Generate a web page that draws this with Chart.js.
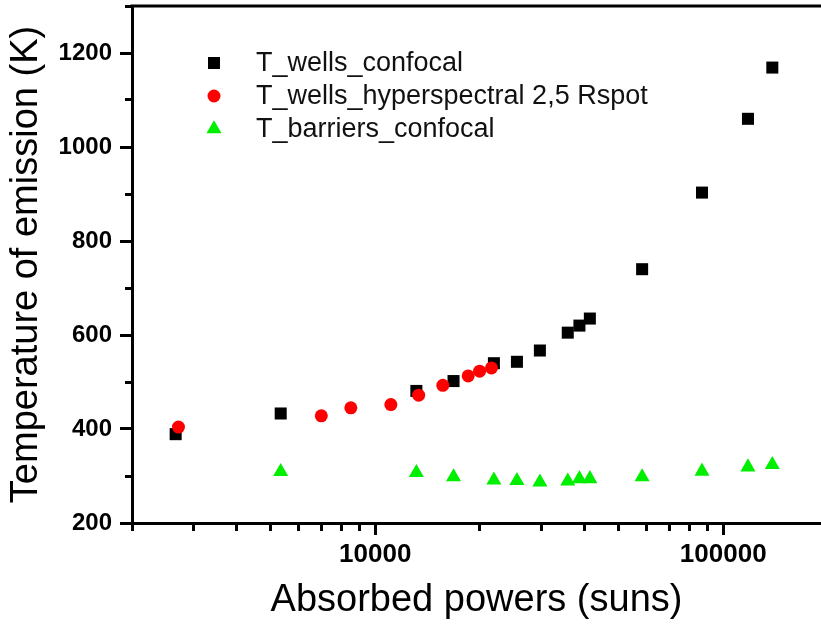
<!DOCTYPE html>
<html>
<head>
<meta charset="utf-8">
<script src="https://cdn.jsdelivr.net/npm/chart.js@4.4.0/dist/chart.umd.min.js"></script>
<style>
  html, body { margin: 0; padding: 0; background: #fff; overflow: hidden; }
  canvas { display: block; }
</style>
</head>
<body>
<canvas id="grafico" width="821" height="625"></canvas>
<script>
// valores (potência absorvida em sóis, temperatura em K)
const confocalPower = [2670, 5350, 13130, 16790, 21930, 25540, 29730, 35750, 38620, 41380, 58480, 86900, 117800, 138400]
const confocalTemp = [389, 433, 481, 502, 540, 543, 567, 605, 620, 635, 740, 903, 1060, 1169]

const hyperPower = [2720, 7000, 8510, 11090, 13330, 15640, 18500, 19950, 21580]
const hyperTemp = [404, 428, 445, 452, 472, 493, 513, 523, 530]

const barrierPower = [5350, 13130, 16790, 21930, 25540, 29730, 35750, 38620, 41380, 58480, 86900, 117800, 138400]
const barrierTemp = [309, 307, 298, 291, 290, 287, 289, 294, 294, 298, 310, 319, 324]

const seriesNames = ['T_wells_confocal', 'T_wells_hyperspectral 2,5 Rspot', 'T_barriers_confocal']

// marcas dos eixos
const xTicks = [2000, 3000, 4000, 5000, 6000, 7000, 8000, 9000, 10000,
  20000, 30000, 40000, 50000, 60000, 70000, 80000, 90000, 100000]
const xLabelTicks = [10000, 100000]
const yLabelTicks = [200, 400, 600, 800, 1000, 1200]

const pts = (xs, ys) => xs.map((x, i) => ({x, y: ys[i]}))

Chart.defaults.font.family = '"Liberation Sans", Arial, sans-serif'
Chart.defaults.color = '#000'

// linha de moldura no topo
const topFrame = {
  id: 'topFrame',
  afterDraw(chart) {
    const {ctx, chartArea} = chart
    ctx.save()
    ctx.strokeStyle = '#000'
    ctx.lineWidth = 3
    ctx.beginPath()
    ctx.moveTo(chartArea.left - 1.5, chartArea.top)
    ctx.lineTo(chartArea.right, chartArea.top)
    ctx.stroke()
    ctx.restore()
  }
}

// legenda dentro da área do gráfico
const legendInside = {
  id: 'legendInside',
  afterDatasetsDraw(chart) {
    const {ctx, chartArea} = chart
    ctx.save()
    ctx.font = '27px "Liberation Sans", Arial, sans-serif'
    ctx.textBaseline = 'middle'
    chart.data.datasets.forEach((ds, i) => {
      const y = chartArea.top + 57 + i * 33
      ctx.fillStyle = ds.backgroundColor
      Chart.helpers.drawPoint(ctx, {pointStyle: ds.pointStyle, radius: ds.pointRadius, borderWidth: 0, rotation: 0}, chartArea.left + 82, y)
      ctx.fillStyle = '#111'
      ctx.fillText(ds.label, chartArea.left + 124, y + 1)
    })
    ctx.restore()
  }
}

const data = {
  datasets: [{
    label: seriesNames[0],
    data: pts(confocalPower, confocalTemp),
    pointStyle: 'rect',
    pointRadius: 8.5,
    backgroundColor: '#000000',
    pointBorderWidth: 0,
    order: 2
  }, {
    label: seriesNames[1],
    data: pts(hyperPower, hyperTemp),
    pointStyle: 'circle',
    pointRadius: 6.5,
    backgroundColor: '#ff0000',
    pointBorderWidth: 0,
    order: 1
  }, {
    label: seriesNames[2],
    data: pts(barrierPower, barrierTemp),
    pointStyle: 'triangle',
    pointRadius: 8.7,
    backgroundColor: '#00ee00',
    pointBorderWidth: 0,
    order: 3
  }]
}

const config = {
  type: 'scatter',
  data,
  plugins: [legendInside, topFrame],
  options: {
    responsive: false,
    animation: false,
    layout: { padding: { top: 6, right: 0, left: 0, bottom: 0 }, autoPadding: false },
    plugins: {
      legend: { display: false },
      tooltip: { enabled: false }
    },
    scales: {
      x: {
        type: 'logarithmic',
        position: 'bottom',
        min: 2000,
        max: 191000,
        afterBuildTicks: (scale) => { scale.ticks = xTicks.map(v => ({value: v})) },
        afterFit: (scale) => { scale.height = 102; scale.paddingLeft = 0; scale.paddingRight = 0 },
        ticks: {
          autoSkip: false,
          maxRotation: 0,
          padding: 4,
          font: { size: 26, weight: 'bold' },
          callback: (v) => xLabelTicks.includes(v) ? String(v) : ''
        },
        grid: {
          drawOnChartArea: false,
          tickLength: 12,
          tickWidth: 3,
          tickColor: '#000',
          tickBorderDash: (c) => xLabelTicks.includes(c.tick && c.tick.value) ? [] : [6, 100]
        },
        border: { color: '#000', width: 3 },
        title: {
          display: true,
          text: 'Absorbed powers (suns)',
          font: { size: 38 },
          padding: { top: 0, bottom: 2 }
        }
      },
      y: {
        type: 'linear',
        min: 200,
        max: 1300,
        afterFit: (scale) => { scale.width = 132; scale.paddingTop = 0; scale.paddingBottom = 0 },
        ticks: {
          stepSize: 100,
          padding: 8,
          font: { size: 24, weight: 'bold' },
          callback: (v) => yLabelTicks.includes(v) ? String(v) : ''
        },
        grid: {
          drawOnChartArea: false,
          tickLength: 12,
          tickWidth: 3,
          tickColor: '#000',
          tickBorderDash: (c) => yLabelTicks.includes(c.tick && c.tick.value) ? [] : [0, 5, 6, 100]
        },
        border: { color: '#000', width: 3 },
        title: {
          display: true,
          text: 'Temperature of emission (K)',
          font: { size: 38 },
          padding: { top: 4, bottom: 0 }
        }
      }
    }
  }
}

const graph = new Chart(document.getElementById('grafico'), config)
</script>
</body>
</html>
